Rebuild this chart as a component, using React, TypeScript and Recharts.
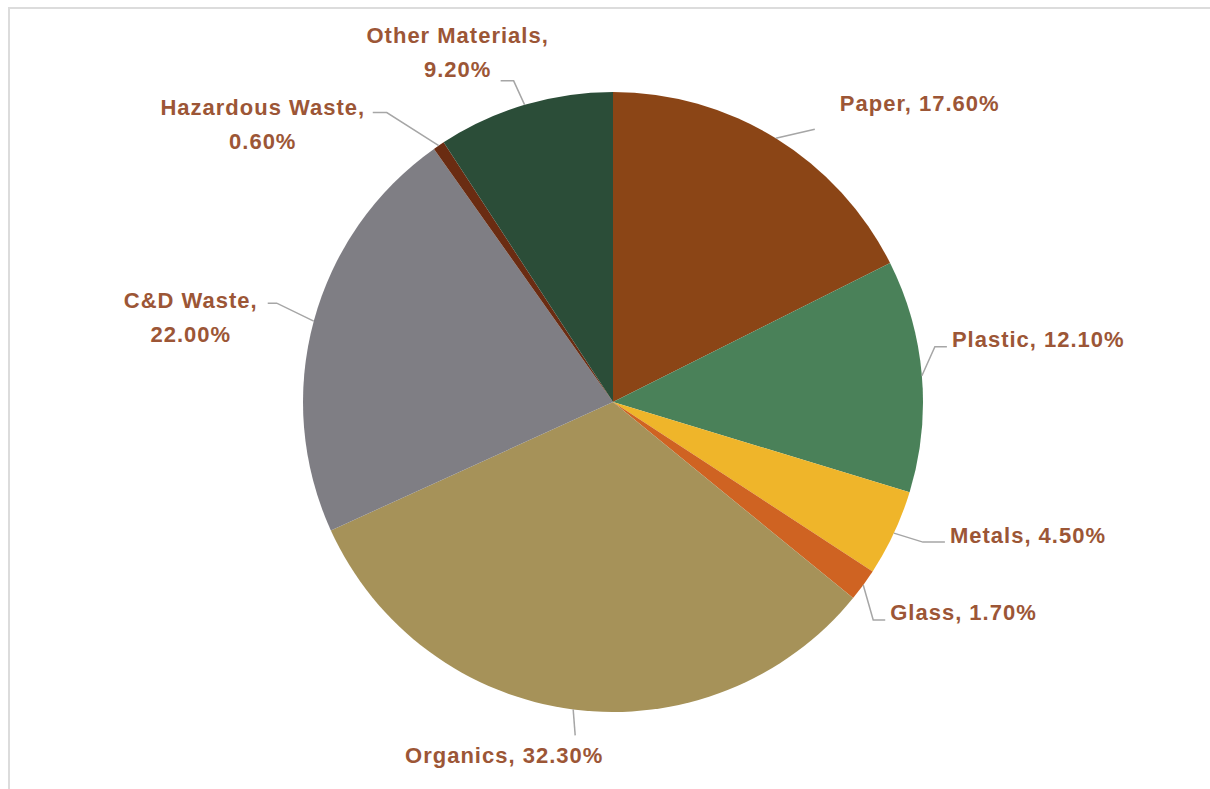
import React from "react";
import { PieChart, Pie, Cell } from "recharts";

const categories = [
  "Paper",
  "Plastic",
  "Metals",
  "Glass",
  "Organics",
  "C&D Waste",
  "Hazardous Waste",
  "Other Materials",
];
const shares = [17.6, 12.1, 4.5, 1.7, 32.3, 22.0, 0.6, 9.2];
const colors = [
  "#8b4516",
  "#4a8159",
  "#efb52a",
  "#cf6322",
  "#a69259",
  "#7f7e84",
  "#6a2c12",
  "#2b4d38",
];

const data = categories.map((name, i) => ({ name, value: shares[i] }));

// label layout: leader-line points and text position, relative to the slice edge point
const layouts: Record<string, { pts: number[][]; tx: number; ty: number; anchor: string; split: boolean }> = {
  Paper: { pts: [[39, -9]], tx: 64, ty: -35, anchor: "start", split: false },
  Plastic: { pts: [[13, -29], [25, -29]], tx: 30, ty: -36, anchor: "start", split: false },
  Metals: { pts: [[29, 9], [51, 9]], tx: 56, ty: 2, anchor: "start", split: false },
  Glass: { pts: [[10, 35], [22, 35]], tx: 27, ty: 27, anchor: "start", split: false },
  Organics: { pts: [[2, 26]], tx: -69, ty: 46, anchor: "middle", split: false },
  "C&D Waste": { pts: [[-37, -18], [-46, -18]], tx: -123, ty: -21, anchor: "middle", split: true },
  "Hazardous Waste": { pts: [[-52, -33], [-66, -33]], tx: -176, ty: -39, anchor: "middle", split: true },
  "Other Materials": { pts: [[-11, -24], [-24, -24]], tx: -67, ty: -70, anchor: "middle", split: true },
};

const RAD = Math.PI / 180;
const TEXT_COLOR = "#9c5636";

const renderLabel = (props: any) => {
  const { cx, cy, midAngle, outerRadius, name, value } = props;
  const ex = cx + outerRadius * Math.cos(-midAngle * RAD);
  const ey = cy + outerRadius * Math.sin(-midAngle * RAD);
  const lay = layouts[name];
  if (!lay) return null;
  const d =
    `M${ex},${ey}` + lay.pts.map((p) => ` L${ex + p[0]},${ey + p[1]}`).join("");
  const pct = `${Number(value).toFixed(2)}%`;
  const x = ex + lay.tx;
  const y = ey + lay.ty;
  return (
    <g key={`lbl-${name}`}>
      <path d={d} stroke="#a6a6a6" strokeWidth={1.5} fill="none" />
      <text
        x={x}
        y={y}
        textAnchor={lay.anchor as any}
        dominantBaseline="central"
        fill={TEXT_COLOR}
        fontFamily="'Liberation Sans', Arial, sans-serif"
        fontWeight="bold"
        fontSize={22}
        letterSpacing={1}
      >
        {lay.split ? (
          <>
            <tspan x={x} y={y}>{`${name},`}</tspan>
            <tspan x={x} y={y + 34}>{pct}</tspan>
          </>
        ) : (
          `${name}, ${pct}`
        )}
      </text>
    </g>
  );
};

export default function App() {
  return (
    <div style={{ position: "absolute", left: 0, top: 0, width: 1210, height: 789, background: "#fff", overflow: "hidden" }}>
      <div
        style={{
          position: "absolute",
          left: 8,
          top: 7,
          width: 1202,
          height: 782,
          borderTop: "2px solid #dcdcdc",
          borderLeft: "2px solid #dcdcdc",
          boxSizing: "border-box",
        }}
      />
      <div style={{ position: "absolute", left: 0, top: 0 }}>
        <PieChart width={1210} height={789} margin={{ top: 0, right: 0, bottom: 0, left: 0 }}>
          <Pie
            data={data}
            dataKey="value"
            nameKey="name"
            cx={613}
            cy={402}
            outerRadius={310}
            startAngle={90}
            endAngle={-270}
            stroke="none"
            label={renderLabel}
            labelLine={false}
            isAnimationActive={false}
          >
            {data.map((d, i) => (
              <Cell key={d.name} fill={colors[i]} />
            ))}
          </Pie>
        </PieChart>
      </div>
    </div>
  );
}
